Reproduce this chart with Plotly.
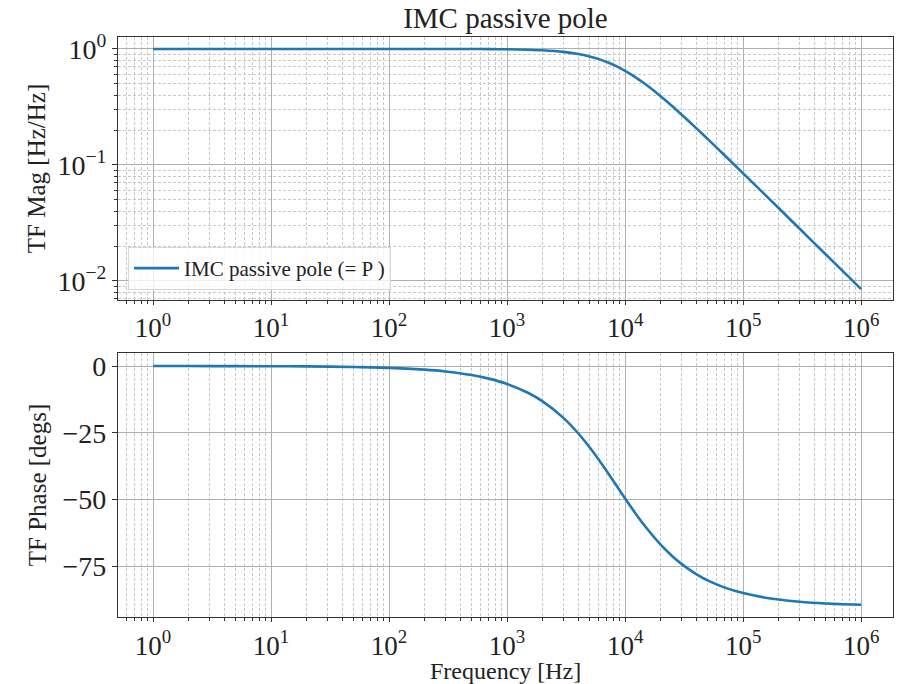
import plotly.graph_objects as go
from plotly.subplots import make_subplots

# Data (frequency in Hz)
freq = [1, 2, 5, 10, 20, 50, 100, 200, 300, 500, 700, 1000, 1500, 2000, 3000, 4000,
        5000, 6000, 7000, 8500, 10000, 12000, 15000, 20000, 25000, 30000, 40000,
        50000, 70000, 100000, 150000, 200000, 300000, 500000, 700000, 1000000]
mag = [1.0, 1.0, 1.0, 1.0, 1.0, 1.0, 0.99993, 0.99972, 0.99938, 0.9983, 0.9966, 0.9931,
       0.9848, 0.9734, 0.9430, 0.9048, 0.8619, 0.8170, 0.7719, 0.7071, 0.6475, 0.5780,
       0.4930, 0.3912, 0.3219, 0.2726, 0.2079, 0.1676, 0.1205, 0.0847, 0.0566, 0.0425,
       0.0283, 0.0170, 0.01214, 0.0085]
phase = [0.0, -0.01, -0.03, -0.07, -0.13, -0.34, -0.67, -1.35, -2.02, -3.37, -4.71, -6.71,
         -10.01, -13.24, -19.44, -25.20, -30.47, -35.22, -39.47, -45.0, -49.64, -54.69,
         -60.46, -66.97, -71.22, -74.18, -78.00, -80.35, -83.08, -85.14, -86.76, -87.57,
         -88.38, -89.03, -89.30, -89.51]

series_name = "IMC passive pole (= P )"
title = "IMC passive pole"
x_label = "Frequency [Hz]"

x_tickvals = [1, 10, 100, 1000, 10000, 100000, 1000000]
x_ticktext = ["10<sup>%d</sup>" % i for i in range(7)]
y_tickvals = [1, 0.1, 0.01]
y_ticktext = ["10<sup>0</sup>", "10<sup>\u22121</sup>", "10<sup>\u22122</sup>"]
ph_tickvals = [0, -25, -50, -75]

FONT = "Liberation Serif"
BLUE = "#1f77b4"
MAJ = "#b0b0b0"
MIN = "#c8c8c8"
SPINE = "#333333"
TXT = "#222222"
DASH = "3px,2px"

def minor_vals(lo, hi):
    out = []
    for e in range(lo, hi + 1):
        for d in range(2, 10):
            out.append(d * 10.0 ** e)
    return out

fig = make_subplots(rows=2, cols=1, vertical_spacing=0.0)

fig.add_trace(go.Scatter(x=freq, y=mag, mode="lines", name=series_name,
                         line=dict(color=BLUE, width=2.6, shape="spline", smoothing=0.6)),
              row=1, col=1)
fig.add_trace(go.Scatter(x=freq, y=phase, mode="lines", name=series_name, showlegend=False,
                         line=dict(color=BLUE, width=2.6, shape="spline", smoothing=0.6)),
              row=2, col=1)

xcommon = dict(type="log", range=[-0.297, 6.27], tickvals=x_tickvals, ticktext=x_ticktext,
               showgrid=True, gridcolor=MAJ, gridwidth=1, automargin=False,
               ticks="outside", ticklen=4, tickcolor=SPINE,
               showline=True, linecolor=SPINE, linewidth=1.2, mirror=True,
               tickfont=dict(family=FONT, size=27, color=TXT),
               zeroline=False,
               minor=dict(tickvals=minor_vals(-1, 5), showgrid=True, griddash=DASH,
                          gridcolor=MIN, gridwidth=0.8, ticks="outside", ticklen=3,
                          tickcolor=SPINE))

fig.update_xaxes(**xcommon, row=1, col=1)
fig.update_xaxes(**xcommon, row=2, col=1)

fig.update_yaxes(type="log", range=[-2.164, 0.103], tickvals=y_tickvals, ticktext=y_ticktext,
                 showgrid=True, gridcolor=MAJ, gridwidth=1, automargin=False,
                 ticks="outside", ticklen=5, tickcolor=SPINE,
                 showline=True, linecolor=SPINE, linewidth=1.2, mirror=True,
                 tickfont=dict(family=FONT, size=28, color=TXT), zeroline=False,
                 title=dict(text="TF Mag [Hz/Hz]", font=dict(family=FONT, size=25, color=TXT),
                            standoff=4),
                 minor=dict(tickvals=minor_vals(-3, 0), showgrid=True, griddash=DASH,
                            gridcolor=MIN, gridwidth=0.8, ticks="outside", ticklen=3,
                            tickcolor=SPINE),
                 row=1, col=1)

fig.update_yaxes(range=[-94.1, 4.9], tickvals=ph_tickvals,
                 showgrid=True, gridcolor=MAJ, gridwidth=1, automargin=False,
                 ticks="outside", ticklen=5, tickcolor=SPINE,
                 showline=True, linecolor=SPINE, linewidth=1.2, mirror=True,
                 tickfont=dict(family=FONT, size=28, color=TXT), zeroline=False,
                 title=dict(text="TF Phase [degs]", font=dict(family=FONT, size=25, color=TXT),
                            standoff=8),
                 row=2, col=1)

fig.add_annotation(text=x_label, xref="paper", yref="paper", x=0.5, y=-0.093,
                   xanchor="center", yanchor="middle", showarrow=False,
                   font=dict(family=FONT, size=24, color=TXT))

fig.update_layout(
    width=897, height=684,
    margin=dict(l=118, r=4, t=37, b=67),
    paper_bgcolor="white", plot_bgcolor="white",
    title=dict(text=title, x=0.5635, xanchor="center", y=0.974, yanchor="middle",
               font=dict(family=FONT, size=29, color=TXT)),
    xaxis=dict(domain=[0, 1]),
    yaxis=dict(domain=[0.5466, 1.0]),
    xaxis2=dict(domain=[0, 1]),
    yaxis2=dict(domain=[0.0, 0.4552]),
    legend=dict(x=0.013, y=0.5638, xanchor="left", yanchor="bottom",
                bgcolor="rgba(255,255,255,0.8)", bordercolor="#d8d8d8", borderwidth=1,
                itemwidth=45,
                font=dict(family=FONT, size=21, color=TXT)),
    showlegend=True,
)

fig.write_html("out.html")
